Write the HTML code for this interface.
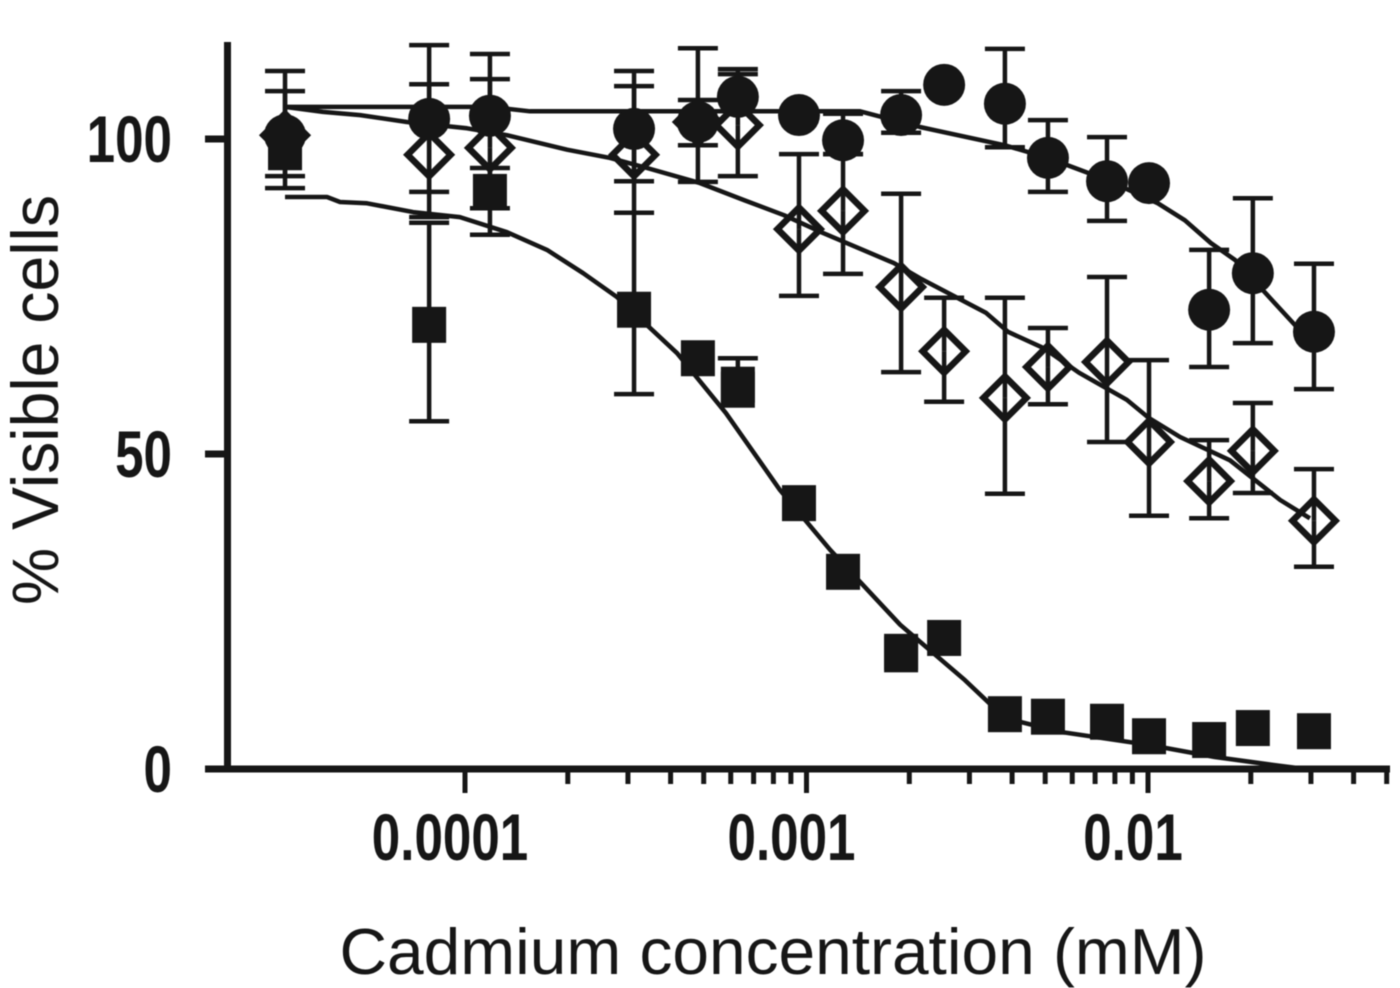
<!DOCTYPE html>
<html>
<head>
<meta charset="utf-8">
<title>Cell viability vs cadmium concentration</title>
<style>
html,body{margin:0;padding:0;background:#fff;}
svg{display:block;filter:blur(.6px);}
text{fill:#161616;}
</style>
</head>
<body>
<svg id="chart" xmlns="http://www.w3.org/2000/svg" width="1400" height="988" viewBox="0 0 1400 988">
  <text transform="translate(58,400) rotate(-90)" text-anchor="middle" font-family="'Liberation Sans',sans-serif" font-size="66" textLength="410" lengthAdjust="spacingAndGlyphs">% Visible cells</text>
  <text x="773" y="974" text-anchor="middle" font-family="'Liberation Sans',sans-serif" font-size="65" textLength="867" lengthAdjust="spacingAndGlyphs">Cadmium concentration (mM)</text>
</svg>
<script>
// log10 of concentration (mM)
const logConc = [-4.527,-4.105,-3.927,-3.505,-3.318,-3.201,-3.022,-2.893,-2.723,-2.597,-2.419,-2.293,-2.12,-1.997,-1.821,-1.693,-1.514];

const circleValues = [100.6,103.2,103.7,101.6,102.7,106.7,103.8,99.8,103.8,108.6,105.6,97.0,93.3,93.0,72.9,78.7,69.4];
const circleUpper = [110.8,114.9,113.5,110.8,114.4,111.1,null,104.0,107.6,null,114.3,103.0,100.3,null,82.4,90.6,80.2];
const circleLower = [94.1,91.6,null,93.3,93.2,null,null,97.6,101.0,null,98.7,91.6,87.0,null,63.8,67.6,60.3];

const diamondValues = [100.6,97.5,98.6,97.5,102.7,102.2,85.7,88.6,76.5,66.3,58.9,63.8,64.6,51.9,45.7,50.5,39.4];
const diamondUpper = [107.6,108.7,109.5,108.4,106.2,110.3,97.6,97.6,91.3,74.8,74.8,70.0,78.1,64.9,52.2,58.1,47.6];
const diamondLower = [92.2,87.6,89.0,88.3,99.0,94.1,75.1,78.6,63.0,58.3,43.7,57.9,51.9,40.2,39.8,43.8,32.1];

const squareValues = [97.9,70.5,91.6,72.9,65.2,61.0,42.2,31.3,18.6,20.8,8.7,8.3,7.5,5.2,4.6,6.5,6.0];
const squareUpper = [null,86.7,95.4,88.3,null,65.2,null,null,null,null,null,null,null,null,null,null,null];
const squareLower = [null,55.2,84.8,59.5,null,null,null,null,null,null,null,null,null,null,null,null,null];
const squareRepeatConc = [-3.201,-2.723];
const squareRepeatValues = [60.2,18.2];

const circleCurveConc = [-4.527,-3.927,-3.81,-2.843,-2.668,-2.419,-2.293,-2.12,-1.971,-1.892,-1.816,-1.745,-1.57,-1.514];
const circleCurveValues = [105.1,105.1,104.4,104.4,101.9,99.0,97.0,93.5,89.8,87.1,83.5,80.8,70.5,67.3];

const diamondCurveConc = [-4.527,-4.416,-4.307,-4.17,-3.994,-3.877,-3.701,-3.575,-3.467,-3.312,-3.183,-3.066,-2.952,-2.744,-2.668,-2.474,-2.41,-2.305,-2.202,-2.062,-1.997,-1.906,-1.76,-1.613,-1.526];
const diamondCurveValues = [105.1,104.3,103.8,102.7,101.7,100.6,98.3,97.0,95.4,93.0,90.3,87.9,85.1,80.3,77.9,72.4,69.4,66.8,62.9,58.6,55.7,52.7,49.0,42.7,39.8];

const squareCurveConc = [-4.527,-4.404,-4.366,-4.287,-4.152,-4.015,-3.877,-3.76,-3.654,-3.555,-3.379,-3.236,-3.078,-2.931,-2.726,-2.536,-2.419,-2.258,-1.994,-1.804,-1.613,-1.54];
const squareCurveValues = [90.8,90.8,90.0,89.8,88.4,87.6,85.2,82.4,78.7,74.9,66.0,56.5,44.3,34.8,22.9,14.1,8.1,5.9,3.8,1.9,0.5,0];

const yTicks = [0,50,100];
const xMajorTicks = [-4,-3,-2];
const xTickLabels = ["0.0001","0.001","0.01"];
const xMinorTicks = [2,3,4,5,6,7,8,9];
const xExtraMinorTicks = [2,3,4,5];

const INK = '#161616';
const svg = document.getElementById('chart');
const NS = 'http://www.w3.org/2000/svg';
const xScale = v => 465 + (v + 4) * 341.5;
const yScale = v => 769 - v * 6.3;

function mk(tag, attrs) {
  const el = document.createElementNS(NS, tag);
  for (const k in attrs) el.setAttribute(k, attrs[k]);
  svg.appendChild(el);
  return el;
}
function line(x1, y1, x2, y2, w) {
  return mk('line', {x1, y1, x2, y2, stroke: INK, 'stroke-width': w});
}
function tickLabel(text, x, y, anchor) {
  const el = mk('text', {
    transform: 'translate(' + x + ',' + y + ') scale(.775,1)',
    'text-anchor': anchor,
    'font-family': "'Liberation Sans',sans-serif",
    'font-weight': 'bold',
    'font-size': 66
  });
  el.textContent = text;
  return el;
}

// axes
const yAxis = line(227.5, 42, 227.5, 772, 7);


const xAxis = line(205, 769, 1390, 769, 7);



yTicks.forEach(v => {
  const t = line(205, yScale(v), 227, yScale(v), 7);
  
  
  const l = tickLabel(String(v), 172, yScale(v) + 23, 'end');
  
  
});

xMajorTicks.forEach((d, i) => {
  const t = line(xScale(d), 769, xScale(d), 793, 5);
  
  
  const l = tickLabel(xTickLabels[i], xScale(d) - 15, 860, 'middle');
  
  
  if (i < xMajorTicks.length - 1) {
    xMinorTicks.forEach(m => {
      const x = xScale(d + Math.log10(m));
      const mt = line(x, 769, x, 784, 5);
      
      
    });
  }
});
xExtraMinorTicks.forEach(m => {
  const x = xScale(-2 + Math.log10(m));
  const mt = line(x, 769, x, 784, 5);
  
  
});

// error bars
function errorBars(values, upper, lower, name) {
  logConc.forEach((c, i) => {
    const x = xScale(c), y = yScale(values[i]);
    if (upper[i] !== null) {
      const yu = yScale(upper[i]);
      const s = line(x, y, x, yu, 4.5);
      
      
      const cap = line(x - 20, yu, x + 20, yu, 4.5);
      
      
    }
    if (lower[i] !== null) {
      const yl = yScale(lower[i]);
      const s = line(x, y, x, yl, 4.5);
      
      
      const cap = line(x - 20, yl, x + 20, yl, 4.5);
      
      
    }
  });
}
errorBars(squareValues, squareUpper, squareLower, 'square');
errorBars(diamondValues, diamondUpper, diamondLower, 'diamond');
errorBars(circleValues, circleUpper, circleLower, 'circle');

// fitted curves
function curve(cs, vs) {
  const pts = cs.map((c, i) => xScale(c).toFixed(1) + ',' + yScale(vs[i]).toFixed(1)).join(' ');
  return mk('polyline', {points: pts, fill: 'none', stroke: INK, 'stroke-width': 4.5, 'stroke-linejoin': 'round'});
}
const curveA = curve(circleCurveConc, circleCurveValues);


const curveB = curve(diamondCurveConc, diamondCurveValues);


const curveC = curve(squareCurveConc, squareCurveValues);



// markers
logConc.forEach((c, i) => {
  const x = xScale(c), y = yScale(diamondValues[i]);
  const h = 21.5;
  const d = mk('polygon', {
    points: [x, y - h, x + h, y, x, y + h, x - h, y].join(','),
    fill: 'none', stroke: INK, 'stroke-width': 6.5
  });
  
  
});
function squareMarker(c, v) {
  return mk('rect', {x: xScale(c) - 17, y: yScale(v) - 18, width: 34, height: 36, fill: INK});
}
logConc.forEach((c, i) => {
  const s = squareMarker(c, squareValues[i]);
  
  
});
squareRepeatConc.forEach((c, i) => {
  const s = squareMarker(c, squareRepeatValues[i]);
  
  
});
logConc.forEach((c, i) => {
  const p = mk('circle', {cx: xScale(c), cy: yScale(circleValues[i]), r: 21, fill: INK});
  
  
});
</script>
</body>
</html>
